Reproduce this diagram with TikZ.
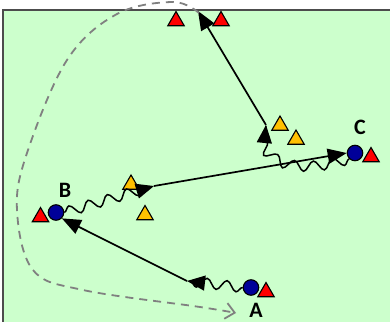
\documentclass[tikz,border=0pt]{standalone}
\usepackage{fontspec}
\setmainfont{Carlito}
\usetikzlibrary{shapes.geometric,arrows.meta,decorations.pathmorphing}
\definecolor{field}{HTML}{CCFFCC}
\definecolor{navy}{HTML}{000099}
\definecolor{gold}{HTML}{FFC000}
\definecolor{dgray}{HTML}{808080}
\tikzset{
  tri/.style={regular polygon, regular polygon sides=3, minimum size=19pt, inner sep=0pt, draw=black, line width=1.1pt},
  redtri/.style={tri, fill=red},
  goldtri/.style={tri, fill=gold},
  player/.style={circle, minimum size=15.5pt, inner sep=0pt, draw=black, line width=1.1pt, fill=navy},
  lbl/.style={font=\bfseries\fontsize{22}{22}\selectfont, inner sep=0pt},
  pass/.style={line width=1.7pt, -{Triangle[length=19pt,width=15pt]}},
  dribble/.style={line width=1.5pt, decorate, decoration={snake, amplitude=5pt, segment length=20pt, post length=1pt}, -{Triangle[length=18pt,width=15pt]}},
  run/.style={draw=dgray, line width=1.8pt, dash pattern=on 8pt off 6pt, -{Straight Barb[length=9pt,width=16pt]}}
}
\begin{document}
\begin{tikzpicture}[x=1pt,y=-1pt]
\useasboundingbox (0,0) rectangle (390,321);
\begin{scope}
\clip (0,0) rectangle (390,321);
\fill[field] (3,10) rectangle (400,330);
\draw[color=black!70, line width=1.2pt] (3,330) -- (3,10) -- (400,10);
\end{scope}
% players
\node[redtri] (r1) at (176,21) {};
\node[redtri] (r2) at (221,21) {};
\node[goldtri] (y3) at (280,125.5) {};
\node[goldtri] (y4) at (296,139.5) {};
\node[goldtri] (y1) at (131,184.5) {};
\node[goldtri] (y2) at (145,215) {};
\node[player] (C) at (355,153) {};
\node[redtri] (rC) at (371,157) {};
\node[lbl] (lC) at (360,127) {C};
\node[player] (B) at (56,212.5) {};
\node[redtri] (rB) at (40.5,217) {};
\node[lbl] (lB) at (65,190) {B};
\node[player] (A) at (251,287.5) {};
\node[redtri] (rA) at (266,292) {};
\node[lbl] (lA) at (256,310) {A};
% turning points
\coordinate (P1) at (187,281);
\coordinate (P2) at (154,186);
\coordinate (P3) at (266,125);
\coordinate (T) at (198,11);
% moves
\draw[dribble] (A.west) -- (P1);
\draw[pass] (P1) -- (B.south east);
\draw[dribble] (B.east) -- (P2);
\draw[pass] (P2) -- (C.west);
\draw[dribble] (C.south west) .. controls (305,172) and (262,165) .. (P3);
\draw[pass] (P3) -- (T);
\draw[run] plot[smooth, tension=0.6] coordinates {(199,13) (173,2) (117,14) (67,60) (27,153) (17,210) (33,270) (83,290) (200,307) (236,313)};
\end{tikzpicture}
\end{document}
